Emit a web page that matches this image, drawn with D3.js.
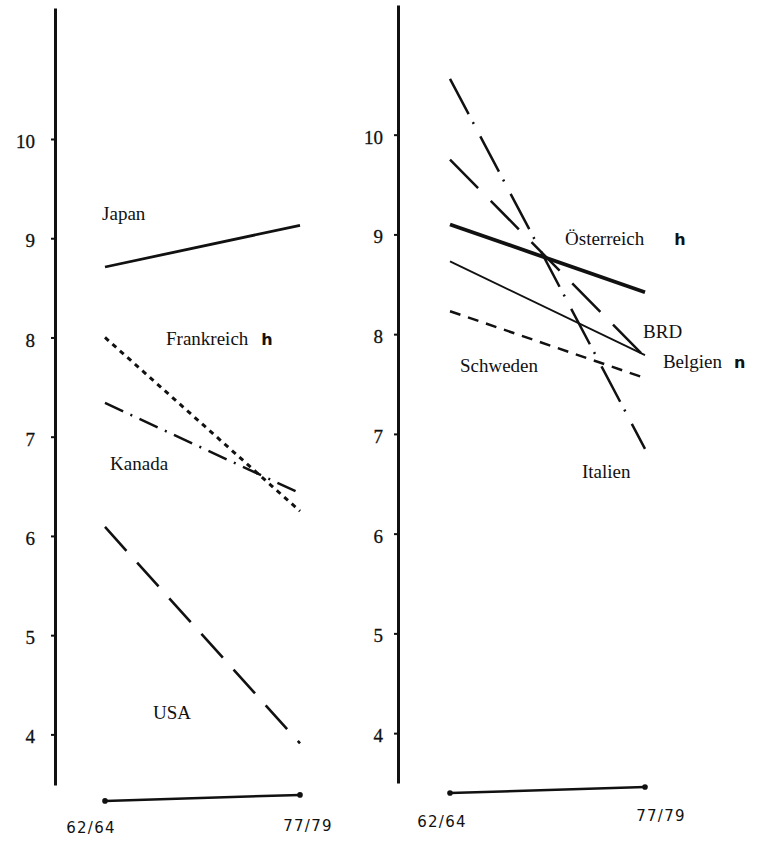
<!DOCTYPE html>
<html>
  <head>
    <meta charset="utf-8">
    <title>Zwei Vergleichszeiträume</title>
    <script src="https://cdn.jsdelivr.net/npm/d3@7"></script>
    <style>
      body { margin: 0; background: #fff; }
      svg { display: block; }
      text { font-family: "Liberation Serif", "Times New Roman", serif; fill: #111; }
      .axis path, .axis line { stroke: #111; }
      .axis path { stroke-width: 3; }
      .axis line { stroke-width: 2; }
      .axis text { font-size: 19px; stroke: #111; stroke-width: 0.3; }
      .series { fill: none; stroke: #111; }
      .label { font-size: 19px; }
      .mark { font-family: "DejaVu Sans", sans-serif; font-weight: bold; font-size: 16px; }
      .period { font-family: "DejaVu Sans", sans-serif; font-size: 15px; letter-spacing: 1.3px; }
      .base { stroke: #111; stroke-width: 2.5; }
      .dot { fill: #111; }
    </style>
  </head>

  <body>
    <svg id="chart" width="760" height="841">
      <g id="leftPanel"></g>
      <g id="rightPanel"></g>
    </svg>

    <script>
      // data
      periods = ["62/64", "77/79"];
      tickValues = [4, 5, 6, 7, 8, 9, 10];

      japan = [8.71, 9.13];
      frankreich = [8.0, 6.25];
      kanada = [7.34, 6.43];
      usa = [6.09, 3.91];

      oesterreich = [9.1, 8.42];
      brd = [8.73, 7.79];
      belgien = [9.75, 7.77];
      italien = [10.56, 6.85];
      schweden = [8.23, 7.56];

      // series styles (dash patterns)
      leftSeries = [
        { name: "Japan", values: japan, width: 2.8, dash: null },
        { name: "Frankreich", values: frankreich, width: 3, dash: "5,5" },
        { name: "Kanada", values: kanada, width: 2.5, dash: "20,8,2,8" },
        { name: "USA", values: usa, width: 2.6, dash: "32,16" }
      ];
      rightSeries = [
        { name: "Österreich", values: oesterreich, width: 3.8, dash: null },
        { name: "BRD", values: brd, width: 1.8, dash: null },
        { name: "Belgien", values: belgien, width: 2.5, dash: "40,18" },
        { name: "Italien", values: italien, width: 2.5, dash: "40,9,2,14" },
        { name: "Schweden", values: schweden, width: 2.5, dash: "11,8" }
      ];

      // labels: t = position between the two periods, v = value
      leftLabels = [
        { text: "Japan", t: -0.015, v: 9.18 },
        { text: "Frankreich", t: 0.313, v: 7.92, mark: "h", dx: 13 },
        { text: "Kanada", t: 0.026, v: 6.66 },
        { text: "USA", t: 0.246, v: 4.16 }
      ];
      rightLabels = [
        { text: "Österreich", t: 0.59, v: 8.89, mark: "h", dx: 30 },
        { text: "BRD", t: 0.99, v: 7.96 },
        { text: "Belgien", t: 1.092, v: 7.66, mark: "n", dx: 12 },
        { text: "Schweden", t: 0.051, v: 7.62 },
        { text: "Italien", t: 0.677, v: 6.56 }
      ];

      drawPanel(d3.select("#leftPanel"), {
        axisX: 55,
        xRange: [105, 300],
        domain: [3.49, 11.32],
        yRange: [785, 8],
        padding: 16,
        baseAt: [3.33, 3.39],
        periodDx: [-14, 8],
        periodY: [833, 831],
        series: leftSeries,
        labels: leftLabels
      });

      drawPanel(d3.select("#rightPanel"), {
        axisX: 398,
        xRange: [450, 645],
        domain: [3.5, 11.3],
        yRange: [783, 5],
        padding: 11,
        baseAt: [3.4, 3.46],
        periodDx: [-8, 16],
        periodY: [827, 821],
        series: rightSeries,
        labels: rightLabels
      });

      function drawPanel(g, p) {
        x = d3.scalePoint()
          .domain(periods)
          .range(p.xRange);
        y = d3.scaleLinear()
          .domain(p.domain)
          .range(p.yRange);

        // y axis
        yAxis = d3.axisLeft(y)
          .tickValues(tickValues)
          .tickFormat(d3.format("d"))
          .tickSize(4)
          .tickPadding(p.padding)
          .tickSizeOuter(0);
        g.append("g")
          .attr("class", "axis")
          .attr("transform", "translate(" + p.axisX + ", 0)")
          .call(yAxis)
          .selectAll("text")
            .attr("dy", "0.45em");

        // base line with the two periods
        line = d3.line()
          .x(function(d, i) { return x(periods[i]); })
          .y(function(d) { return y(d); });
        g.append("path")
          .attr("class", "base")
          .attr("d", line(p.baseAt));
        g.selectAll(".dot")
          .data(p.baseAt)
          .enter().append("circle")
            .attr("class", "dot")
            .attr("cx", function(d, i) { return x(periods[i]); })
            .attr("cy", function(d) { return y(d); })
            .attr("r", 2.8);
        g.selectAll(".period")
          .data(periods)
          .enter().append("text")
            .attr("class", "period")
            .attr("text-anchor", "middle")
            .attr("x", function(d, i) { return x(d) + p.periodDx[i]; })
            .attr("y", function(d, i) { return p.periodY[i]; })
            .text(function(d) { return d; });

        // series
        g.selectAll(".series")
          .data(p.series)
          .enter().append("path")
            .attr("class", "series")
            .attr("stroke-width", function(d) { return d.width; })
            .attr("stroke-dasharray", function(d) { return d.dash; })
            .attr("d", function(d) { return line(d.values); });

        // labels
        x0 = p.xRange[0];
        xw = p.xRange[1] - p.xRange[0];
        labels = g.selectAll(".label")
          .data(p.labels)
          .enter().append("text")
            .attr("class", "label")
            .attr("x", function(d) { return x0 + d.t * xw; })
            .attr("y", function(d) { return y(d.v); });
        labels.append("tspan")
          .text(function(d) { return d.text; });
        labels.filter(function(d) { return d.mark; })
          .append("tspan")
            .attr("class", "mark")
            .attr("dx", function(d) { return d.dx; })
            .text(function(d) { return d.mark; });
      }
    </script>
  </body>
</html>
